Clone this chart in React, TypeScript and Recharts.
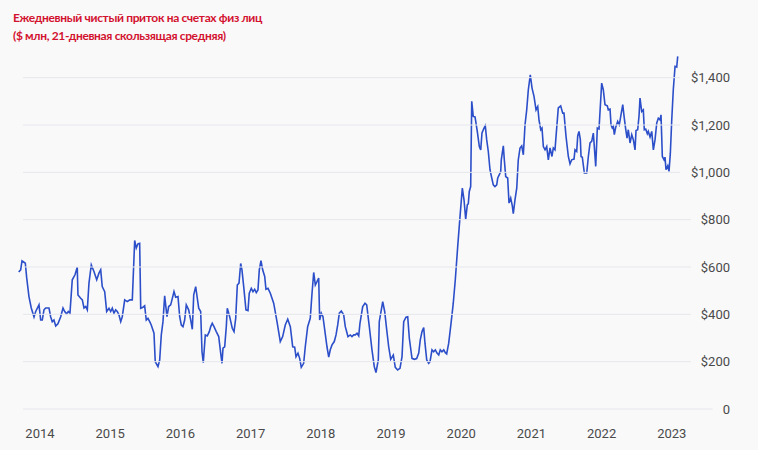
import { Line, LineChart, XAxis, YAxis } from "recharts";

const TITLE = [
  "Ежедневный чистый приток на счетах физ лиц",
  "($ млн, 21-дневная скользящая средняя)",
];

const YEAR_TICKS = [2014, 2015, 2016, 2017, 2018, 2019, 2020, 2021, 2022, 2023];
const VALUE_TICKS = [0, 200, 400, 600, 800, 1000, 1200, 1400];

// decimal year of each observation
const DATES = [
  2013.697, 2013.725, 2013.744, 2013.772, 2013.791, 2013.811, 2013.843, 2013.876, 2013.915, 2013.939,
  2013.986, 2014.01, 2014.033, 2014.057, 2014.081, 2014.128, 2014.152, 2014.175, 2014.199, 2014.224,
  2014.256, 2014.295, 2014.328, 2014.352, 2014.38, 2014.403, 2014.427, 2014.46, 2014.499, 2014.531,
  2014.541, 2014.58, 2014.603, 2014.627, 2014.651, 2014.674, 2014.698, 2014.731, 2014.769, 2014.808,
  2014.84, 2014.865, 2014.887, 2014.922, 2014.95, 2014.983, 2015.007, 2015.03, 2015.054, 2015.078,
  2015.101, 2015.125, 2015.15, 2015.172, 2015.207, 2015.244, 2015.282, 2015.315, 2015.349, 2015.372,
  2015.396, 2015.42, 2015.435, 2015.467, 2015.491, 2015.514, 2015.538, 2015.563, 2015.585, 2015.624,
  2015.642, 2015.681, 2015.705, 2015.728, 2015.752, 2015.776, 2015.809, 2015.833, 2015.862, 2015.88,
  2015.909, 2015.933, 2015.966, 2015.99, 2016.013, 2016.037, 2016.061, 2016.084, 2016.118, 2016.147,
  2016.17, 2016.19, 2016.218, 2016.241, 2016.261, 2016.289, 2016.308, 2016.326, 2016.355, 2016.383,
  2016.412, 2016.432, 2016.454, 2016.479, 2016.511, 2016.546, 2016.574, 2016.593, 2016.607, 2016.631,
  2016.654, 2016.668, 2016.702, 2016.739, 2016.764, 2016.788, 2016.811, 2016.835, 2016.859, 2016.877,
  2016.902, 2016.934, 2016.963, 2016.981, 2017.01, 2017.034, 2017.058, 2017.081, 2017.105, 2017.124,
  2017.148, 2017.172, 2017.201, 2017.219, 2017.248, 2017.281, 2017.329, 2017.376, 2017.423, 2017.457,
  2017.494, 2017.529, 2017.566, 2017.6, 2017.628, 2017.647, 2017.675, 2017.699, 2017.722, 2017.756,
  2017.779, 2017.813, 2017.85, 2017.875, 2017.899, 2017.922, 2017.946, 2017.97, 2017.984, 2018.007,
  2018.031, 2018.056, 2018.088, 2018.113, 2018.135, 2018.16, 2018.192, 2018.217, 2018.241, 2018.264,
  2018.292, 2018.326, 2018.349, 2018.387, 2018.42, 2018.444, 2018.469, 2018.491, 2018.516, 2018.54,
  2018.558, 2018.597, 2018.63, 2018.654, 2018.691, 2018.729, 2018.762, 2018.786, 2018.819, 2018.833,
  2018.862, 2018.882, 2018.91, 2018.939, 2018.967, 2018.996, 2019.033, 2019.061, 2019.095, 2019.128,
  2019.157, 2019.181, 2019.214, 2019.238, 2019.261, 2019.299, 2019.332, 2019.366, 2019.395, 2019.417,
  2019.442, 2019.466, 2019.484, 2019.509, 2019.537, 2019.556, 2019.584, 2019.608, 2019.631, 2019.655,
  2019.68, 2019.702, 2019.726, 2019.751, 2019.774, 2019.793, 2019.822, 2019.855, 2019.887, 2019.916,
  2019.95, 2019.983, 2020.016, 2020.04, 2020.064, 2020.087, 2020.101, 2020.115, 2020.135, 2020.15,
  2020.172, 2020.197, 2020.229, 2020.258, 2020.278, 2020.296, 2020.325, 2020.343, 2020.363, 2020.386,
  2020.41, 2020.435, 2020.457, 2020.481, 2020.506, 2020.52, 2020.543, 2020.563, 2020.571, 2020.585,
  2020.6, 2020.614, 2020.634, 2020.662, 2020.681, 2020.705, 2020.728, 2020.742, 2020.766, 2020.791,
  2020.813, 2020.838, 2020.862, 2020.885, 2020.909, 2020.933, 2020.956, 2020.984, 2021.009, 2021.037,
  2021.066, 2021.09, 2021.108, 2021.133, 2021.151, 2021.17, 2021.194, 2021.218, 2021.241, 2021.265,
  2021.293, 2021.312, 2021.336, 2021.36, 2021.383, 2021.417, 2021.446, 2021.464, 2021.493, 2021.526,
  2021.55, 2021.574, 2021.607, 2021.621, 2021.645, 2021.66, 2021.678, 2021.697, 2021.707, 2021.725,
  2021.754, 2021.788, 2021.811, 2021.835, 2021.859, 2021.882, 2021.916, 2021.939, 2021.963, 2022.001,
  2022.024, 2022.048, 2022.081, 2022.095, 2022.12, 2022.134, 2022.152, 2022.167, 2022.181, 2022.201,
  2022.229, 2022.252, 2022.276, 2022.301, 2022.323, 2022.343, 2022.362, 2022.38, 2022.405, 2022.429,
  2022.452, 2022.476, 2022.49, 2022.514, 2022.533, 2022.547, 2022.571, 2022.594, 2022.608, 2022.628,
  2022.651, 2022.665, 2022.69, 2022.714, 2022.737, 2022.761, 2022.785, 2022.808, 2022.832, 2022.846,
  2022.865, 2022.889, 2022.903, 2022.917, 2022.942, 2022.96, 2022.979, 2022.999, 2023.021, 2023.046,
  2023.07, 2023.084,
];

// $ mln, 21-day moving average
const INFLOWS = [
  579, 588, 626, 620, 616, 554, 475, 427, 389, 412,
  440, 376, 376, 419, 427, 427, 390, 369, 376, 351,
  360, 390, 427, 412, 402, 412, 405, 546, 567, 599,
  482, 468, 461, 427, 433, 419, 532, 609, 581, 546,
  574, 588, 517, 496, 412, 426, 412, 426, 405, 419,
  412, 398, 369, 390, 461, 454, 461, 461, 712, 680,
  698, 700, 426, 430, 436, 376, 383, 369, 355, 320,
  200, 179, 207, 313, 369, 478, 390, 433, 440, 461,
  496, 472, 475, 390, 355, 348, 376, 440, 419, 376,
  337, 482, 517, 468, 426, 412, 242, 196, 313, 309,
  327, 348, 362, 348, 327, 306, 236, 193, 257, 263,
  348, 426, 390, 341, 327, 383, 524, 532, 615, 588,
  517, 419, 416, 489, 510, 496, 506, 492, 503, 588,
  627, 588, 560, 506, 510, 489, 447, 369, 285, 306,
  355, 379, 348, 263, 261, 221, 236, 214, 176, 193,
  263, 348, 383, 489, 577, 524, 538, 553, 376, 405,
  390, 334, 263, 219, 250, 271, 285, 313, 355, 405,
  414, 398, 348, 306, 313, 306, 313, 313, 320, 309,
  362, 433, 447, 440, 348, 250, 179, 154, 207, 369,
  419, 454, 412, 334, 263, 210, 228, 176, 165, 172,
  221, 369, 388, 390, 299, 214, 210, 213, 236, 292,
  327, 344, 278, 207, 193, 200, 250, 242, 250, 236,
  228, 250, 242, 250, 238, 233, 278, 362, 447, 546,
  686, 813, 933, 884, 802, 863, 867, 919, 940, 1300,
  1236, 1234, 1173, 1109, 1095, 1166, 1187, 1197, 1138, 1088,
  1011, 976, 947, 940, 947, 976, 990, 1004, 1053, 1081,
  1112, 1053, 982, 976, 870, 891, 858, 825, 884, 933,
  1053, 1103, 1112, 1074, 1201, 1264, 1349, 1412, 1356, 1321,
  1264, 1278, 1222, 1180, 1187, 1109, 1095, 1109, 1053, 1103,
  1067, 1103, 1095, 1187, 1272, 1281, 1250, 1250, 1152, 1067,
  1036, 1053, 1056, 1095, 1088, 1155, 1173, 1138, 1067, 1064,
  997, 997, 1067, 1124, 1131, 1166, 1025, 1187, 1183, 1377,
  1349, 1286, 1281, 1264, 1267, 1201, 1187, 1194, 1159, 1191,
  1215, 1201, 1243, 1286, 1229, 1183, 1145, 1180, 1124, 1159,
  1138, 1095, 1177, 1180, 1239, 1314, 1257, 1264, 1180, 1183,
  1163, 1173, 1149, 1173, 1095, 1138, 1208, 1229, 1222, 1243,
  1067, 1053, 1064, 1011, 1028, 1004, 1081, 1222, 1349, 1448,
  1445, 1490,
];

const data = DATES.map((t, i) => ({ t, v: INFLOWS[i] }));

const fmtValue = (v: number) => (v === 0 ? "0" : "$" + v.toLocaleString("en-US"));

// rough text width for 13px Roboto digits
const labelWidth = (s: string) =>
  s.split("").reduce((w, ch) => w + (ch === "," ? 3.3 : 7.3), 0);

// gridline runs from the plot's left edge up to just before the label
function ValueTick({ x, y, payload }: { x?: number; y?: number; payload?: { value: number } }) {
  const label = fmtValue(payload?.value ?? 0);
  const px = x ?? 0;
  const right = px + 48;
  const lineEnd = right - labelWidth(label) - 10;
  return (
    <g>
      <line x1={px - 659} x2={lineEnd} y1={y} y2={y} stroke="#e6e7eb" strokeWidth={1} />
      <text
        x={right}
        y={y}
        dy="0.35em"
        textAnchor="end"
        fill="#4a4a4a"
        fontSize={13}
        fontFamily="Roboto, sans-serif"
      >
        {label}
      </text>
    </g>
  );
}

export default function App() {
  return (
    <div
      style={{
        position: "fixed",
        left: 0,
        top: 0,
        width: 758,
        height: 450,
        background: "#f9f9fa",
      }}
    >
      <div
        style={{
          position: "absolute",
          left: 13,
          top: 9,
          fontFamily: "Lato, sans-serif",
          fontWeight: 700,
          fontSize: 12,
          letterSpacing: -0.35,
          lineHeight: "18px",
          color: "#d3122f",
          zIndex: 1,
        }}
      >
        {TITLE.map((line) => (
          <div key={line}>{line}</div>
        ))}
      </div>
      <LineChart width={758} height={450} data={data} margin={{ top: 54, right: 0, bottom: 0, left: 18 }}>
        <XAxis
          dataKey="t"
          type="number"
          domain={[2013.687, 2023.145]}
          ticks={YEAR_TICKS}
          interval={0}
          axisLine={false}
          tickLine={false}
          tickMargin={14}
          height={41}
          tick={{ fill: "#4a4a4a", fontSize: 13, fontFamily: "Roboto, sans-serif" }}
        />
        <YAxis
          orientation="right"
          type="number"
          domain={[0, 1500]}
          ticks={VALUE_TICKS}
          interval={0}
          axisLine={false}
          tickLine={false}
          tickSize={0}
          tickMargin={0}
          width={76}
          tick={(props: any) => <ValueTick {...props} />}
        />
        <Line
          type="linear"
          dataKey="v"
          stroke="#2c4fc9"
          strokeWidth={1.6}
          dot={false}
          isAnimationActive={false}
        />
      </LineChart>
    </div>
  );
}
